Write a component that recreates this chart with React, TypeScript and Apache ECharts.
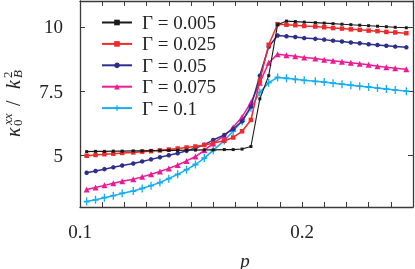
import React, { useEffect, useRef } from "react";
import * as echarts from "echarts";

const pValues = [
  0.103, 0.107, 0.111, 0.115, 0.119, 0.124, 0.128, 0.132, 0.136, 0.14, 0.144, 0.148,
  0.152, 0.156, 0.16, 0.165, 0.169, 0.173, 0.177, 0.181, 0.185, 0.189, 0.193, 0.197,
  0.201, 0.206, 0.21, 0.214, 0.218, 0.222, 0.226, 0.23, 0.234, 0.238, 0.242, 0.247,
];

const gamma0005 = [
  5.15, 5.16, 5.16, 5.17, 5.17, 5.18, 5.18, 5.19, 5.19, 5.2, 5.2, 5.21, 5.21, 5.22, 5.22,
  5.23, 5.23, 5.25, 5.35, 7.2, 8.1, 10.08, 10.22, 10.2, 10.18, 10.16, 10.14, 10.12, 10.1,
  10.08, 10.06, 10.04, 10.02, 10.0, 9.98, 9.96,
];
const gamma0025 = [
  4.99, 5.02, 5.05, 5.07, 5.1, 5.12, 5.15, 5.17, 5.2, 5.23, 5.27, 5.31, 5.35, 5.41, 5.48,
  5.57, 5.7, 5.94, 6.38, 7.9, 9.3, 10.1, 10.08, 10.06, 10.03, 10.01, 9.98, 9.95, 9.93, 9.9,
  9.88, 9.85, 9.83, 9.8, 9.78, 9.75,
];
const gamma005 = [
  4.33, 4.4, 4.47, 4.54, 4.61, 4.69, 4.77, 4.85, 4.93, 5.01, 5.09, 5.18, 5.29, 5.42, 5.6,
  5.8, 6.03, 6.33, 6.9, 8.1, 9.22, 9.66, 9.63, 9.6, 9.56, 9.53, 9.5, 9.46, 9.43, 9.39, 9.36,
  9.32, 9.29, 9.26, 9.23, 9.2,
];
const gamma0075 = [
  3.68, 3.76, 3.84, 3.92, 4.0, 4.08, 4.17, 4.27, 4.38, 4.5, 4.63, 4.79, 4.96, 5.2, 5.47,
  5.77, 6.1, 6.5, 7.06, 7.83, 8.6, 8.93, 8.89, 8.85, 8.81, 8.77, 8.72, 8.68, 8.64, 8.6, 8.56,
  8.52, 8.47, 8.43, 8.39, 8.35,
];
const gamma01 = [
  3.21, 3.28, 3.36, 3.44, 3.53, 3.62, 3.72, 3.83, 3.95, 4.1, 4.27, 4.45, 4.65, 4.9, 5.2,
  5.58, 5.95, 6.33, 6.85, 7.45, 7.83, 8.03, 8.0, 7.96, 7.92, 7.88, 7.85, 7.81, 7.77, 7.73,
  7.69, 7.66, 7.62, 7.58, 7.54, 7.5,
];

const seriesNames = ["Γ = 0.005", "Γ = 0.025", "Γ = 0.05", "Γ = 0.075", "Γ = 0.1"];
const xTickLabels = [0.1, 0.2];
const yTickLabels = [5, 7.5, 10];

const FONT = "'Liberation Serif', serif";
const AXIS_COLOR = "#3a3a3a";
const TEXT_COLOR = "#222";

const PLUS = "path://M3.5,0H5.5V3.5H9V5.5H5.5V9H3.5V5.5H0V3.5H3.5Z";

export default function App() {
  const ref = useRef<HTMLDivElement>(null);

  useEffect(() => {
    if (!ref.current) return;
    const chart = echarts.init(ref.current, null, { renderer: "svg" });

    const toPairs = (vals: number[]) => pValues.map((p, i) => [p, vals[i]]);

    const styles = [
      { color: "#1a1a1a", symbol: "rect", size: 3, width: 1.1 },
      { color: "#ee2a2a", symbol: "rect", size: 4.5, width: 1.5 },
      { color: "#2e2e8e", symbol: "circle", size: 4.5, width: 1.5 },
      { color: "#ec1a96", symbol: "triangle", size: 6, width: 1.5 },
      { color: "#16aef0", symbol: PLUS, size: [6, 8], width: 1.5 },
    ];
    const data = [gamma0005, gamma0025, gamma005, gamma0075, gamma01];

    const xBase = {
      type: "value",
      min: 0.1,
      max: 0.25,
      interval: 0.01,
      axisLine: { show: true, onZero: false, lineStyle: { color: AXIS_COLOR, width: 1.3 } },
      axisTick: { show: true, inside: true, length: 5, lineStyle: { color: AXIS_COLOR, width: 1 } },
      splitLine: { show: false },
    };
    const yBase = {
      type: "value",
      min: 3,
      max: 11,
      axisLine: { show: true, onZero: false, lineStyle: { color: AXIS_COLOR, width: 1.3 } },
      axisTick: {
        show: true,
        inside: true,
        length: 5,
        customValues: yTickLabels,
        lineStyle: { color: AXIS_COLOR, width: 1 },
      },
      splitLine: { show: false },
    };

    const option: any = {
      animation: false,
      grid: { left: 80, right: 2, top: 1, bottom: 62 },
      xAxis: [
        {
          ...xBase,
          position: "bottom",
          axisLabel: {
            customValues: xTickLabels,
            formatter: (v: number) => v.toFixed(1),
            margin: 15,
            fontFamily: FONT,
            fontSize: 19,
            color: TEXT_COLOR,
          },
        },
        { ...xBase, position: "top", axisLabel: { show: false } },
      ],
      yAxis: [
        {
          ...yBase,
          position: "left",
          axisLabel: {
            customValues: yTickLabels,
            formatter: (v: number) => String(v),
            margin: 17,
            fontFamily: FONT,
            fontSize: 19,
            color: TEXT_COLOR,
          },
        },
        { ...yBase, position: "right", axisLabel: { show: false } },
      ],
      legend: {
        orient: "vertical",
        left: 101,
        top: 12,
        padding: 0,
        itemWidth: 30,
        itemHeight: 7,
        itemGap: 0.4,
        data: seriesNames,
        textStyle: {
          fontFamily: FONT,
          fontSize: 19,
          lineHeight: 21,
          color: TEXT_COLOR,
          padding: [0, 0, 0, 5],
        },
      },
      series: seriesNames.map((name, i) => ({
        name,
        type: "line",
        data: toPairs(data[i]),
        symbol: styles[i].symbol,
        symbolSize: styles[i].size,
        showSymbol: true,
        lineStyle: { color: styles[i].color, width: styles[i].width },
        itemStyle: { color: styles[i].color },
        emphasis: { disabled: true },
        z: 10 - i,
      })),
      graphic: [
        {
          type: "group",
          x: 2,
          y: 100,
          rotation: Math.PI / 2,
          children: [
            { type: "text", x: -37, y: 10.6, style: { text: "κ", font: `italic 20px ${FONT}`, fill: TEXT_COLOR, verticalAlign: "middle", textAlign: "left" } },
            { type: "text", x: -26, y: 15, style: { text: "0", font: `13px ${FONT}`, fill: TEXT_COLOR, verticalAlign: "middle", textAlign: "left" } },
            { type: "text", x: -25, y: 5.6, style: { text: "xx", font: `italic 13px ${FONT}`, fill: TEXT_COLOR, verticalAlign: "middle", textAlign: "left" } },
            { type: "text", x: -6, y: 10.6, style: { text: "/", font: `20px ${FONT}`, fill: TEXT_COLOR, verticalAlign: "middle", textAlign: "left" } },
            { type: "text", x: 11, y: 10.6, style: { text: "k", font: `italic 20px ${FONT}`, fill: TEXT_COLOR, verticalAlign: "middle", textAlign: "left" } },
            { type: "text", x: 22, y: 15, style: { text: "B", font: `italic 13px ${FONT}`, fill: TEXT_COLOR, verticalAlign: "middle", textAlign: "left" } },
            { type: "text", x: 22, y: 5, style: { text: "2", font: `13px ${FONT}`, fill: TEXT_COLOR, verticalAlign: "middle", textAlign: "left" } },
          ],
        },
        {
          type: "text",
          x: 245,
          y: 260,
          style: { text: "p", font: `italic 19px ${FONT}`, fill: TEXT_COLOR, verticalAlign: "middle", textAlign: "center" },
        },
      ],
    };

    chart.setOption(option);
    return () => chart.dispose();
  }, []);

  return (
    <div
      ref={ref}
      style={{ position: "fixed", left: 0, top: 0, width: 415, height: 269 }}
    />
  );
}
